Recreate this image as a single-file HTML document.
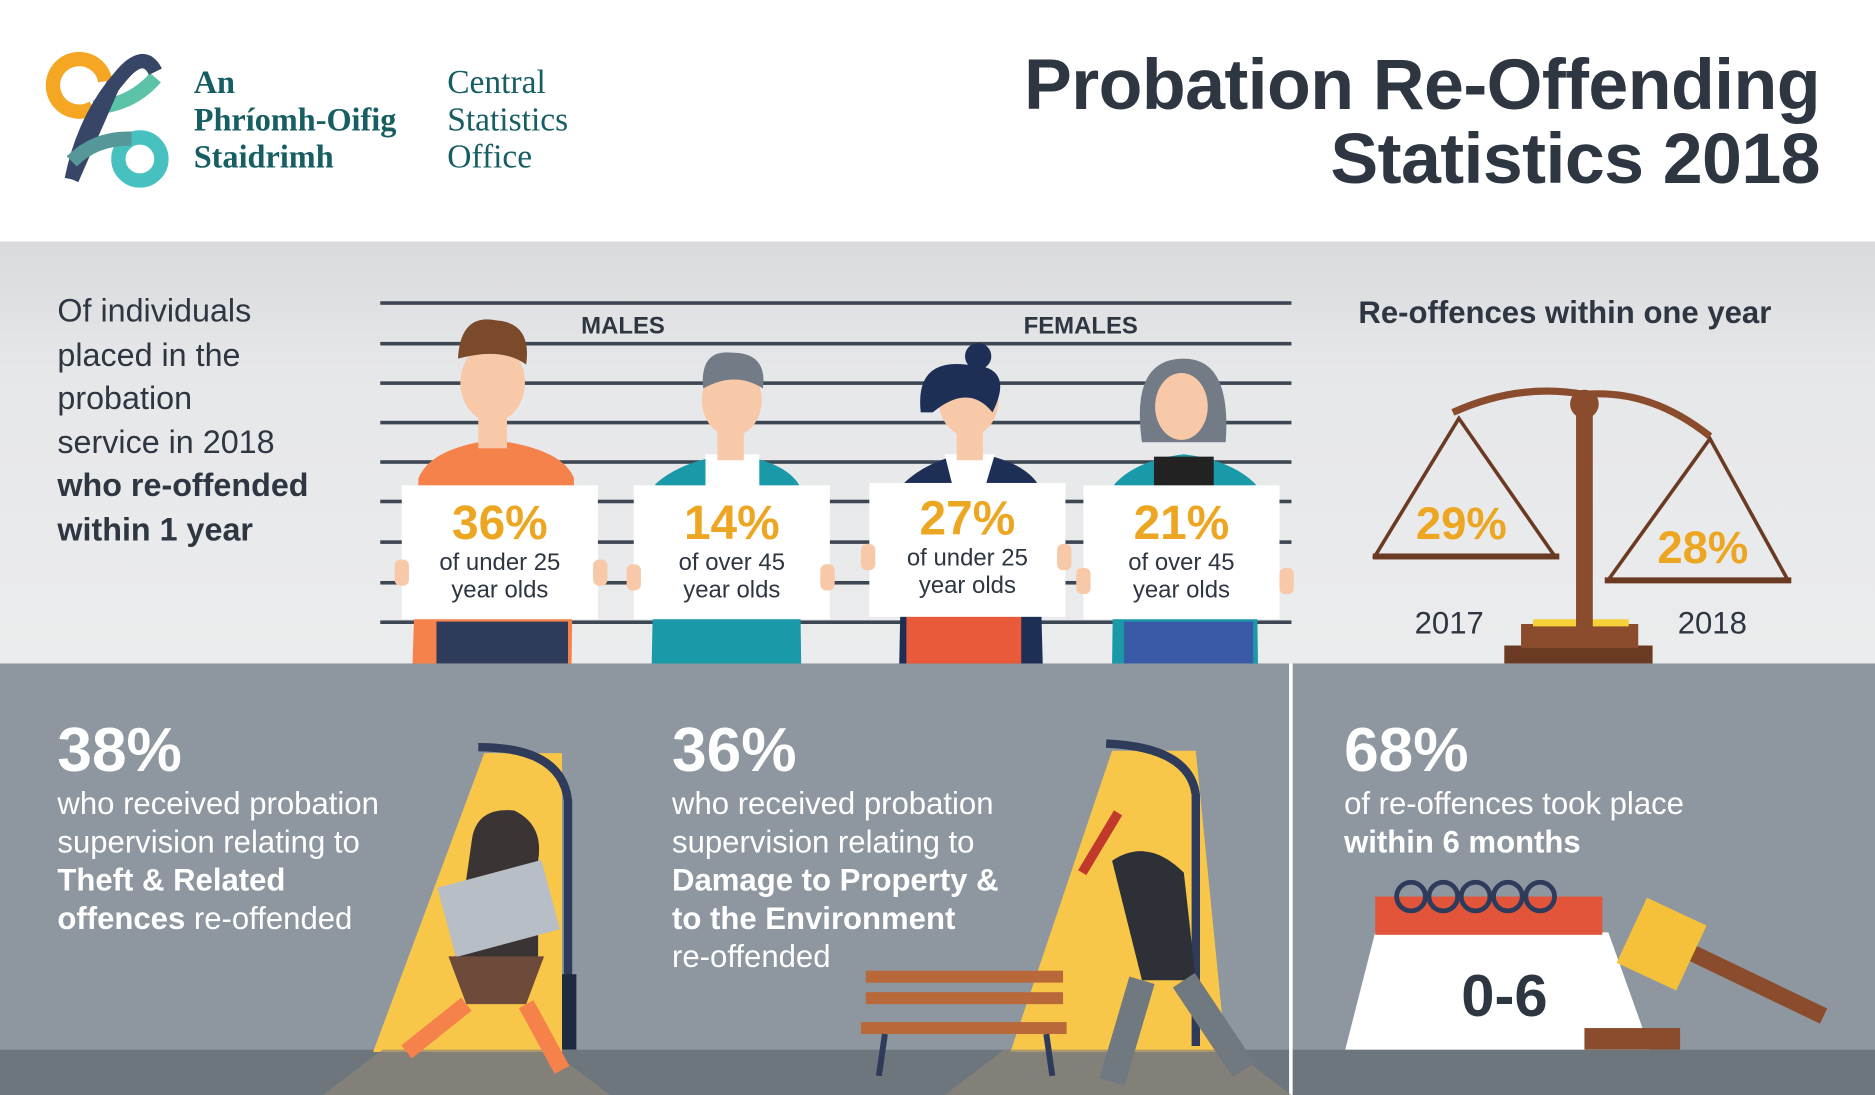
<!DOCTYPE html>
<html><head><meta charset="utf-8"><style>
html,body{margin:0;padding:0;width:1875px;height:1095px;overflow:hidden;background:#fff}
#w{width:1568px;height:916px;transform:scale(1.19579,1.19541);transform-origin:0 0;position:relative;font-family:"Liberation Sans",sans-serif}
.t{position:absolute;white-space:nowrap}
</style></head><body><div id="w">
<svg width="1568" height="916" style="position:absolute;left:0;top:0">
<rect x="0" y="0" width="1568" height="202" fill="#fff"/>
<defs><linearGradient id="g" x1="0" y1="0" x2="0" y2="1"><stop offset="0" stop-color="#d9dadd"/><stop offset="0.3" stop-color="#e6e7e9"/><stop offset="1" stop-color="#ebeced"/></linearGradient></defs>
<rect x="0" y="202" width="1568" height="353" fill="url(#g)"/>
<rect x="0" y="555" width="1568" height="323" fill="#8e979f"/>
<rect x="0" y="878" width="1568" height="38" fill="#6e767d"/>
<rect x="1078" y="555" width="3" height="361" fill="#fff"/>
<!-- logo -->
<path d="M78 90 A22 22 0 1 1 88 68" stroke="#f5a623" stroke-width="12" fill="none"/>
<path d="M78 90 Q110 88 130 65" stroke="#5cc3a8" stroke-width="12" fill="none"/>
<path d="M60 150 Q70 100 100 65 Q120 40 130 60" stroke="#374567" stroke-width="12" fill="none"/>
<path d="M60 150 L95 70" stroke="#374567" stroke-width="12" fill="none"/>
<circle cx="117" cy="133" r="18" stroke="#47c1c0" stroke-width="12" fill="none"/>
<path d="M60 135 Q80 115 110 116" stroke="#56979a" stroke-width="12" fill="none"/>
<!-- mugshot lines -->
<g fill="#3d4753">
<rect x="318" y="252" width="762" height="3"/><rect x="318" y="286" width="762" height="3"/><rect x="318" y="319" width="762" height="3"/><rect x="318" y="352" width="762" height="3"/><rect x="318" y="385" width="762" height="3"/><rect x="318" y="418" width="762" height="3"/><rect x="318" y="452" width="762" height="3"/><rect x="318" y="486" width="762" height="3"/><rect x="318" y="519" width="762" height="3"/></g>
<!-- people -->
<g>
<path d="M345 555 L350 400 Q360 375 412 368 Q470 375 480 400 L478 555Z" fill="#f4824a"/><rect x="365" y="520" width="110" height="35" fill="#2e3b5a"/>
<rect x="400" y="340" width="24" height="35" fill="#f8c9a8"/><ellipse cx="412" cy="320" rx="27" ry="33" fill="#f8c9a8"/><path d="M383 300 Q385 262 415 268 Q445 270 440 305 Q420 290 383 300Z" fill="#7a4a2a"/>
<path d="M545 555 L548 405 Q570 385 612 380 Q655 385 668 405 L670 555Z" fill="#1a9aa8"/><rect x="590" y="380" width="45" height="30" fill="#fff"/>
<rect x="600" y="350" width="22" height="35" fill="#f8c9a8"/><ellipse cx="612" cy="335" rx="25" ry="30" fill="#f8c9a8"/><path d="M588 325 Q585 292 612 295 Q642 295 638 325 Q615 310 588 325Z" fill="#737c86"/>
<path d="M752 555 L755 405 Q775 385 812 378 Q855 385 868 405 L872 555Z" fill="#1e2f55"/><path d="M790 380 L832 380 L820 420 L800 420Z" fill="#fff"/><rect x="758" y="515" width="96" height="40" fill="#e95a3a"/>
<rect x="800" y="350" width="22" height="35" fill="#f8c9a8"/><ellipse cx="810" cy="335" rx="25" ry="30" fill="#f8c9a8"/><path d="M770 345 Q765 300 808 305 Q850 305 830 345 Q810 320 780 345Z" fill="#1e2f55"/><circle cx="818" cy="298" r="11" fill="#1e2f55"/>
<path d="M930 555 L932 405 Q950 385 990 380 Q1030 385 1050 405 L1052 555Z" fill="#1a9aa8"/><rect x="965" y="382" width="50" height="25" fill="#222"/><rect x="940" y="520" width="108" height="35" fill="#3a5aa8"/>
<path d="M955 370 Q945 300 990 300 Q1030 300 1025 370Z" fill="#737c86"/><ellipse cx="988" cy="340" rx="22" ry="28" fill="#f8c9a8"/>
</g>
<g fill="#fff"><rect x="336" y="406" width="164" height="112"/><rect x="530" y="406" width="164" height="112"/><rect x="727" y="404" width="164" height="112"/><rect x="906" y="406" width="164" height="112"/></g>
<g fill="#f8c9a8"><rect x="330" y="468" width="12" height="22" rx="5"/><rect x="496" y="468" width="12" height="22" rx="5"/><rect x="524" y="472" width="12" height="22" rx="5"/><rect x="686" y="472" width="12" height="22" rx="5"/><rect x="720" y="455" width="12" height="22" rx="5"/><rect x="884" y="455" width="12" height="22" rx="5"/><rect x="900" y="475" width="12" height="22" rx="5"/><rect x="1070" y="475" width="12" height="22" rx="5"/></g>
<!-- scales -->
<rect x="1258" y="540" width="124" height="15" fill="#6b3a22"/><rect x="1272" y="522" width="98" height="20" fill="#8a4c2c"/><rect x="1282" y="518" width="80" height="6" fill="#f5d13a"/>
<rect x="1318" y="330" width="14" height="195" fill="#8a4c2c"/><circle cx="1325" cy="338" r="12" fill="#8a4c2c"/>
<path d="M1215 345 Q1270 320 1325 330 Q1380 325 1430 365" stroke="#8a4c2c" stroke-width="6" fill="none"/>
<path d="M1220 350 L1150 465 L1300 465Z M1430 367 L1345 485 L1495 485Z" stroke="#6b3a22" stroke-width="3" fill="none"/>
<rect x="1148" y="463" width="156" height="5" fill="#6b3a22"/><rect x="1342" y="483" width="156" height="5" fill="#6b3a22"/>
<!-- street lamps -->
<path d="M405 630 L470 630 L470 880 L312 880Z" fill="#f8c74a"/>
<path d="M930 628 L1000 628 L1025 880 L845 880Z" fill="#f8c74a"/>
<path d="M400 625 Q470 625 475 670 L475 875" stroke="#2e3b5a" stroke-width="7" fill="none"/><rect x="470" y="815" width="12" height="63" fill="#1e2a40"/>
<path d="M925 622 Q995 625 1000 665 L1000 875" stroke="#2e3b5a" stroke-width="7" fill="none"/>
<path d="M270 916 L320 878 L460 878 L510 916Z M790 916 L840 878 L1030 878 L1080 916Z" fill="#8b8478" opacity="0.7"/>
<!-- thief -->
<path d="M395 700 Q400 675 430 678 Q455 690 450 720 L450 800 L380 805Z" fill="#3a3434"/><rect x="372" y="730" width="90" height="60" fill="#b8bec5" transform="rotate(-15 417 760)"/>
<path d="M375 800 L455 800 L440 840 L390 840Z" fill="#6e4a3a"/><path d="M390 840 L340 880 M440 840 L470 895" stroke="#f4824a" stroke-width="14"/>
<!-- vandal -->
<path d="M930 720 Q960 700 990 730 L1000 820 L955 820Z" fill="#2e3038"/><path d="M955 820 L930 905 M990 820 L1040 895" stroke="#707880" stroke-width="22"/>
<path d="M935 680 L905 730" stroke="#c0392b" stroke-width="8"/>
<!-- bench -->
<g fill="#b9683a"><rect x="724" y="812" width="165" height="10"/><rect x="724" y="830" width="165" height="10"/><rect x="720" y="855" width="172" height="10"/></g>
<path d="M740 865 L735 900 M875 865 L880 900" stroke="#2e3b5a" stroke-width="5"/>
<!-- calendar & gavel -->
<path d="M1150 780 L1345 780 L1380 878 L1125 878Z" fill="#fff"/><rect x="1150" y="750" width="190" height="32" fill="#e2553a"/>
<g fill="none" stroke="#2e3b5a" stroke-width="4"><circle cx="1180" cy="750" r="12"/><circle cx="1207" cy="750" r="12"/><circle cx="1234" cy="750" r="12"/><circle cx="1261" cy="750" r="12"/><circle cx="1288" cy="750" r="12"/></g>
<path d="M1400 790 L1525 850" stroke="#8a4c2c" stroke-width="14"/><rect x="1362" y="760" width="55" height="60" fill="#f5c13a" transform="rotate(25 1390 790)"/>
<rect x="1325" y="860" width="80" height="18" fill="#8a4c2c"/>
</svg>
<div class="t" style="left:162px;top:54px;font:bold 27px/31px 'Liberation Serif',serif;color:#175e63">An<br>Phríomh-Oifig<br>Staidrimh</div>
<div class="t" style="left:374px;top:54px;font:28px/31px 'Liberation Serif',serif;color:#175e63">Central<br>Statistics<br>Office</div>
<div class="t" style="right:46px;top:40px;text-align:right;font:bold 60px/62px 'Liberation Sans',sans-serif;color:#2e3642;letter-spacing:-0.5px">Probation Re-Offending<br>Statistics 2018</div>
<div class="t" style="left:48px;top:242px;font:27px/36.5px 'Liberation Sans',sans-serif;color:#2e3642">Of individuals<br>placed in the<br>probation<br>service in 2018<br><b>who re-offended<br>within 1 year</b></div>
<div class="t" style="left:486px;top:262px;font:bold 20px 'Liberation Sans',sans-serif;color:#2e3642">MALES</div>
<div class="t" style="left:856px;top:262px;font:bold 20px 'Liberation Sans',sans-serif;color:#2e3642">FEMALES</div>
<div class="t" style="left:1136px;top:246px;font:bold 26px 'Liberation Sans',sans-serif;color:#2e3642">Re-offences within one year</div>
<div class="t" style="left:336px;top:416px;width:164px;text-align:center;color:#2e3642;font:20px/23px 'Liberation Sans',sans-serif"><b style="font-size:40px;line-height:44px;color:#eda622">36%</b><br>of under 25<br>year olds</div>
<div class="t" style="left:530px;top:416px;width:164px;text-align:center;color:#2e3642;font:20px/23px 'Liberation Sans',sans-serif"><b style="font-size:40px;line-height:44px;color:#eda622">14%</b><br>of over 45<br>year olds</div>
<div class="t" style="left:727px;top:412px;width:164px;text-align:center;color:#2e3642;font:20px/23px 'Liberation Sans',sans-serif"><b style="font-size:40px;line-height:44px;color:#eda622">27%</b><br>of under 25<br>year olds</div>
<div class="t" style="left:906px;top:416px;width:164px;text-align:center;color:#2e3642;font:20px/23px 'Liberation Sans',sans-serif"><b style="font-size:40px;line-height:44px;color:#eda622">21%</b><br>of over 45<br>year olds</div>
<div class="t" style="left:1184px;top:418px;font:bold 38px 'Liberation Sans',sans-serif;color:#eda622">29%</div>
<div class="t" style="left:1386px;top:438px;font:bold 38px 'Liberation Sans',sans-serif;color:#eda622">28%</div>
<div class="t" style="left:1183px;top:506px;font:26px 'Liberation Sans',sans-serif;color:#2e3642">2017</div>
<div class="t" style="left:1403px;top:506px;font:26px 'Liberation Sans',sans-serif;color:#2e3642">2018</div>
<div class="t" style="left:48px;top:600px;color:#fff;font:26px/32px 'Liberation Sans',sans-serif"><b style="font-size:52px;line-height:56px">38%</b><br>who received probation<br>supervision relating to<br><b>Theft &amp; Related<br>offences</b> re-offended</div>
<div class="t" style="left:562px;top:600px;color:#fff;font:26px/32px 'Liberation Sans',sans-serif"><b style="font-size:52px;line-height:56px">36%</b><br>who received probation<br>supervision relating to<br><b>Damage to Property &amp;<br>to the Environment</b><br>re-offended</div>
<div class="t" style="left:1124px;top:600px;color:#fff;font:26px/32px 'Liberation Sans',sans-serif"><b style="font-size:52px;line-height:56px">68%</b><br>of re-offences took place<br><b>within 6 months</b></div>
<div class="t" style="left:1222px;top:804px;font:bold 50px 'Liberation Sans',sans-serif;color:#2e3642">0-6</div>
</div></body></html>
